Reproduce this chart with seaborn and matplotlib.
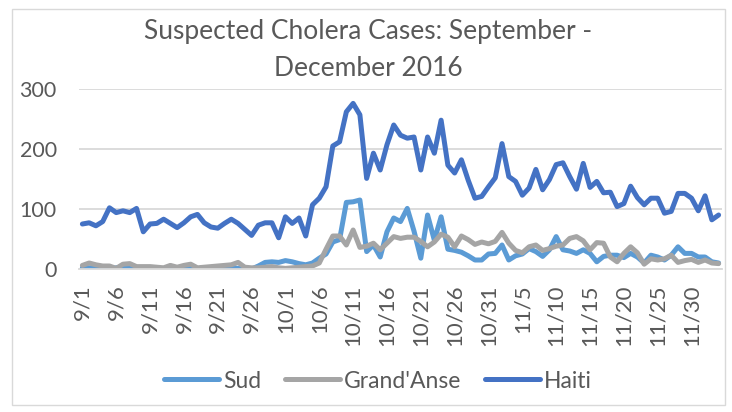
import numpy as np
import pandas as pd
import matplotlib
matplotlib.use('Agg')
import matplotlib.pyplot as plt
from matplotlib.patches import Rectangle
import seaborn as sns

# Daily suspected cholera cases, 9/1 - 12/4 2016
dates = pd.date_range('2016-09-01', '2016-12-04')

sud = [2, 2, 1, 0, 0, 2, 3, 1, 0, 0,
       0, 0, 0, 1, 0, 0, 1, 0, 0, 0,
       1, 1, 2, 1, 0, 0, 5, 11, 12, 11,
       14, 12, 9, 7, 10, 18, 25, 45, 49, 111,
       112, 115, 29, 40, 20, 62, 85, 79, 101, 63,
       18, 90, 48, 87, 33, 31, 28, 22, 15, 15,
       25, 26, 40, 15, 22, 25, 34, 29, 21, 32,
       54, 32, 30, 26, 32, 26, 12, 21, 23, 23,
       19, 26, 20, 10, 23, 20, 15, 23, 37, 26,
       26, 20, 20, 12, 10]

grand_anse = [6, 10, 7, 5, 5, 1, 8, 9, 4, 4,
              4, 3, 2, 6, 3, 6, 8, 2, 3, 4,
              5, 6, 7, 11, 3, 2, 2, 3, 4, 2,
              1, 2, 3, 4, 5, 10, 33, 55, 55, 40,
              65, 36, 38, 43, 32, 43, 54, 51, 53, 53,
              46, 37, 45, 58, 53, 37, 55, 49, 41, 45,
              42, 46, 61, 43, 31, 27, 37, 40, 31, 34,
              38, 40, 51, 54, 47, 32, 44, 43, 20, 12,
              26, 37, 27, 8, 17, 15, 17, 23, 11, 14,
              16, 11, 15, 10, 9]

haiti = [75, 77, 72, 79, 102, 94, 97, 94, 101, 62,
         75, 76, 83, 76, 69, 77, 87, 91, 77, 70,
         68, 76, 83, 76, 66, 56, 73, 77, 77, 52,
         87, 76, 85, 55, 107, 118, 137, 205, 212, 262,
         276, 257, 151, 193, 165, 207, 240, 223, 218, 220,
         165, 220, 193, 248, 173, 160, 182, 148, 118, 121,
         137, 152, 209, 154, 146, 123, 135, 166, 132, 149,
         174, 177, 154, 133, 176, 136, 146, 127, 128, 104,
         109, 138, 119, 107, 118, 118, 93, 96, 126, 126,
         118, 97, 122, 82, 90]

tick_labels = ['9/1', '9/6', '9/11', '9/16', '9/21', '9/26', '10/1', '10/6',
               '10/11', '10/16', '10/21', '10/26', '10/31', '11/5', '11/10',
               '11/15', '11/20', '11/25', '11/30']
y_ticks = [0, 100, 200, 300]

series_names = ['Sud', "Grand'Anse", 'Haiti']
colors = ['#5B9BD5', '#A5A5A5', '#4472C4']

df = pd.DataFrame({'day': np.arange(len(dates)), 'Sud': sud,
                   "Grand'Anse": grand_anse, 'Haiti': haiti})
long_df = df.melt(id_vars='day', var_name='region', value_name='cases')

sns.set_style('white')
plt.rcParams['font.family'] = ['Lato', 'DejaVu Sans']
text_col = '#595959'
grid_col = '#D9D9D9'

fig = plt.figure(figsize=(7.32, 4.12), dpi=100)
ax = fig.add_axes([79 / 732, 1 - 269 / 412, (722 - 79) / 732, 180 / 412])

sns.lineplot(data=long_df, x='day', y='cases', hue='region',
             hue_order=series_names, palette=colors, linewidth=3.6,
             legend=False, ax=ax, solid_capstyle='round',
             solid_joinstyle='round')

ax.set_xlim(-0.5, len(dates) - 0.5)
ax.set_ylim(0, 300)
ax.set_yticks(y_ticks)
ax.set_xticks(np.arange(0, len(dates), 5))
ax.set_xticklabels(tick_labels, rotation=90)
ax.set_xticks(np.arange(-0.5, len(dates), 1), minor=True)
ax.set_xlabel('')
ax.set_ylabel('')

ax.yaxis.grid(True, color=grid_col, lw=1.3)
ax.set_axisbelow(True)
for s in ['top', 'right', 'left']:
    ax.spines[s].set_visible(False)
ax.spines['bottom'].set_color(grid_col)
ax.spines['bottom'].set_linewidth(1.3)

ax.tick_params(axis='y', length=0, pad=16, labelsize=15.5, labelcolor=text_col)
ax.tick_params(axis='x', which='major', length=0, pad=11, labelsize=16,
               labelcolor=text_col)
ax.tick_params(axis='x', which='minor', length=5, width=1, color=grid_col)

fig.text(0.503, 1 - 32 / 412, 'Suspected Cholera Cases: September -',
         ha='center', va='center', fontsize=19, color=text_col)
fig.text(0.503, 1 - 68 / 412, 'December 2016',
         ha='center', va='center', fontsize=19, color=text_col)

ax.legend(ax.lines[:3], series_names, ncol=3, loc='center',
          bbox_to_anchor=(378 / 732, 1 - 381 / 412),
          bbox_transform=fig.transFigure, frameon=False, fontsize=16.5,
          handlelength=2.4, handletextpad=0.2, columnspacing=1.0,
          labelcolor=text_col)

fig.patches.append(Rectangle((12 / 732, 1 - 405 / 412), (725 - 12) / 732,
                             (405 - 9) / 412, transform=fig.transFigure,
                             fill=False, edgecolor=grid_col, lw=1))

fig.savefig('out.png', dpi=100)
